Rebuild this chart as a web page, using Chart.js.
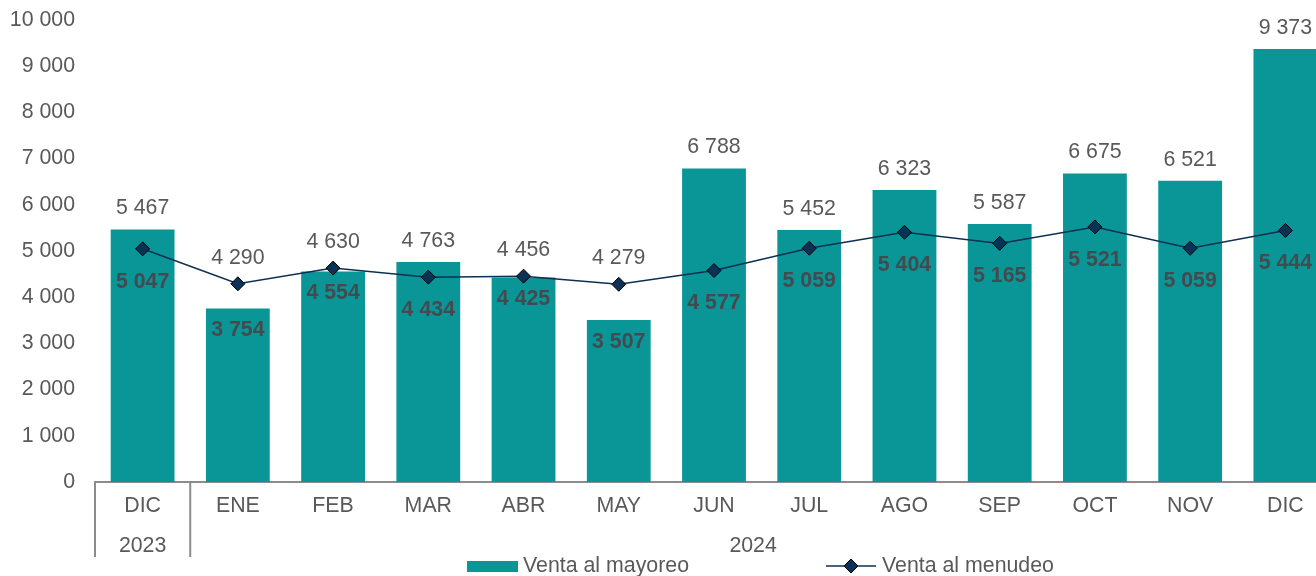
<!DOCTYPE html>
<html>
<head>
<meta charset="utf-8">
<script src="https://cdn.jsdelivr.net/npm/chart.js@4.4.1/dist/chart.umd.min.js"></script>
<style>
    html, body { margin: 0; padding: 0; background: #ffffff; overflow: hidden; }
    #wrap { width: 1341px; height: 576px; }
</style>
</head>
<body>
<div id="wrap"><canvas id="chart" width="1341" height="576"></canvas></div>
<script>
'use strict';

// Chart data
const months = ['DIC', 'ENE', 'FEB', 'MAR', 'ABR', 'MAY', 'JUN', 'JUL', 'AGO', 'SEP', 'OCT', 'NOV', 'DIC'];
const years = ['2023', '2024'];
const yearSpans = [1, 12];
const ventaMayoreo = [5467, 3754, 4554, 4763, 4425, 3507, 6788, 5452, 6323, 5587, 6675, 6521, 9373];
const ventaMenudeo = [5047, 4290, 4630, 4434, 4456, 4279, 4577, 5059, 5404, 5165, 5521, 5059, 5444];
const seriesNames = ['Venta al mayoreo', 'Venta al menudeo'];

// Styles
const barColor = '#0a9696';
const lineColor = '#0d2f52';
const markerColor = '#0b3157';
const textColor = '#595959';
const boldColor = '#444a4f';
const axisColor = '#8c8c8c';
const fontFamily = '"Liberation Sans", Arial, sans-serif';
const fontSize = 21.33;

// Format with space thousands separator
function fmt(v) {
    return String(v).replace(/\B(?=(\d{3})+(?!\d))/g, ' ');
}

// Data labels, year row, separators and legend
const decorPlugin = {
    id: 'decor',
    afterDatasetsDraw(chart) {
        const ctx = chart.ctx;
        const bars = chart.getDatasetMeta(0).data;
        const points = chart.getDatasetMeta(1).data;
        ctx.save();
        ctx.textAlign = 'center';
        ctx.textBaseline = 'middle';
        for (let i = 0; i < months.length; i++) {
            let b = ventaMayoreo[i];
            let l = ventaMenudeo[i];
            let barTop = bars[i].y;
            let pt = points[i];
            let hi, lo;
            // higher value goes above its mark, lower one in bold below
            if (b >= l) {
                hi = { v: b, x: bars[i].x, y: barTop - 21 };
                lo = { v: l, x: pt.x, y: pt.y + 33 };
            } else {
                hi = { v: l, x: pt.x, y: pt.y - 26 };
                lo = { v: b, x: bars[i].x, y: barTop + 22 };
            }
            ctx.font = fontSize + 'px ' + fontFamily;
            ctx.fillStyle = textColor;
            ctx.fillText(fmt(hi.v), hi.x, hi.y);
            ctx.font = 'bold ' + fontSize + 'px ' + fontFamily;
            ctx.fillStyle = boldColor;
            ctx.fillText(fmt(lo.v), lo.x, lo.y);
        }
        ctx.restore();
    },
    afterDraw(chart) {
        const ctx = chart.ctx;
        const xs = chart.scales.x;
        const area = chart.chartArea;
        const step = (area.right - area.left) / months.length;
        ctx.save();

        // Group separators and year labels
        ctx.strokeStyle = axisColor;
        ctx.lineWidth = 2;
        ctx.font = fontSize + 'px ' + fontFamily;
        ctx.fillStyle = textColor;
        ctx.textAlign = 'center';
        ctx.textBaseline = 'middle';
        let start = 0;
        for (let g = 0; g < years.length; g++) {
            let left = xs.getPixelForValue(start) - step / 2;
            let right = xs.getPixelForValue(start + yearSpans[g] - 1) + step / 2;
            ctx.beginPath();
            ctx.moveTo(left, area.bottom);
            ctx.lineTo(left, area.bottom + 75);
            ctx.stroke();
            let cx = (left + Math.min(right, 1316)) / 2;
            ctx.fillText(years[g], cx, area.bottom + 64);
            start += yearSpans[g];
        }

        // Legend
        let ly = 566;
        ctx.fillStyle = barColor;
        ctx.fillRect(467, ly - 5, 51, 11);
        ctx.fillStyle = textColor;
        ctx.textAlign = 'left';
        ctx.fillText(seriesNames[0], 523, ly);
        ctx.strokeStyle = lineColor;
        ctx.lineWidth = 1.5;
        ctx.beginPath();
        ctx.moveTo(826, ly);
        ctx.lineTo(876, ly);
        ctx.stroke();
        ctx.beginPath();
        ctx.moveTo(851, ly - 7);
        ctx.lineTo(858, ly);
        ctx.lineTo(851, ly + 7);
        ctx.lineTo(844, ly);
        ctx.closePath();
        ctx.fillStyle = markerColor;
        ctx.fill();
        ctx.strokeStyle = '#000000';
        ctx.lineWidth = 1;
        ctx.stroke();
        ctx.fillStyle = textColor;
        ctx.fillText(seriesNames[1], 882, ly);
        ctx.restore();
    }
};

new Chart(document.getElementById('chart').getContext('2d'), {
    data: {
        labels: months,
        datasets: [
            {
                type: 'bar',
                label: seriesNames[0],
                data: ventaMayoreo,
                backgroundColor: barColor,
                barPercentage: 1,
                categoryPercentage: 0.67,
                order: 2
            },
            {
                type: 'line',
                label: seriesNames[1],
                data: ventaMenudeo,
                borderColor: lineColor,
                borderWidth: 1.5,
                pointStyle: 'rectRot',
                pointRadius: 7,
                pointBackgroundColor: markerColor,
                pointBorderColor: '#000000',
                pointBorderWidth: 1,
                tension: 0,
                order: 1
            }
        ]
    },
    options: {
        responsive: false,
        animation: false,
        layout: { padding: { top: 20, right: 0, left: 0, bottom: 0 } },
        plugins: {
            legend: { display: false },
            tooltip: { enabled: false }
        },
        scales: {
            x: {
                grid: { display: false, drawTicks: false },
                border: { color: axisColor, width: 2 },
                ticks: {
                    color: textColor,
                    font: { family: fontFamily, size: fontSize },
                    padding: 11,
                    maxRotation: 0,
                    autoSkip: false
                },
                afterFit(scale) { scale.height = 94; }
            },
            y: {
                min: 0,
                max: 10000,
                grid: { display: false, drawTicks: false },
                border: { display: false },
                ticks: {
                    stepSize: 1000,
                    color: textColor,
                    font: { family: fontFamily, size: fontSize },
                    padding: 20,
                    callback: (v) => fmt(v)
                },
                afterFit(scale) {
                    scale.width = 95;
                    scale.paddingTop = 0;
                    scale.paddingBottom = 0;
                }
            }
        }
    },
    plugins: [decorPlugin]
});
</script>
</body>
</html>
